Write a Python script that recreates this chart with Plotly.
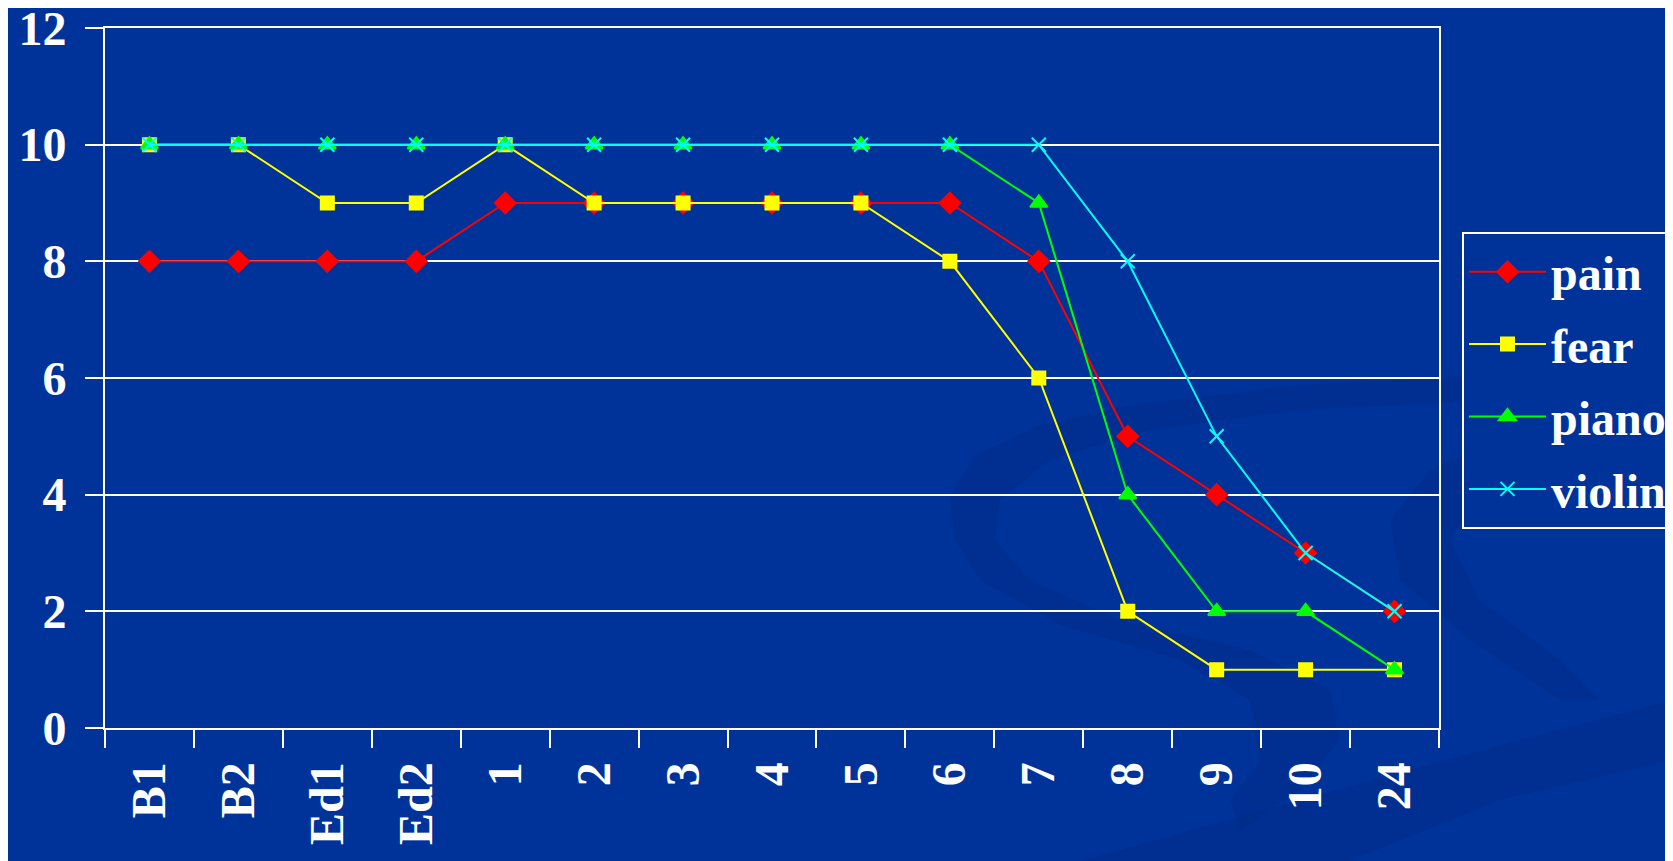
import plotly.graph_objects as go

categories = ["B1", "B2", "Ed1", "Ed2", "1", "2", "3", "4", "5", "6", "7", "8", "9", "10", "24"]
pain = [8, 8, 8, 8, 9, 9, 9, 9, 9, 9, 8, 5, 4, 3, 2]
fear = [10, 10, 9, 9, 10, 9, 9, 9, 9, 8, 6, 2, 1, 1, 1]
piano = [10, 10, 10, 10, 10, 10, 10, 10, 10, 10, 9, 4, 2, 2, 1]
violin = [10, 10, 10, 10, 10, 10, 10, 10, 10, 10, 10, 8, 5, 3, 2]
y_ticks = [0, 2, 4, 6, 8, 10, 12]

BG = "#003399"
FONT = "Liberation Serif, Times New Roman, Times, serif"

fig = go.Figure()
series = [
    ("pain", pain, "#ff0000", "diamond", 16),
    ("fear", fear, "#ffff00", "square", 13),
    ("piano", piano, "#00ff00", "triangle-up", 15),
    ("violin", violin, "#00ffff", "x-thin", 14),
]
for name, vals, col, sym, sz in series:
    fig.add_trace(go.Scatter(
        x=categories, y=vals, name=name, mode="lines+markers", legendgroup=name,
        line=dict(color=col, width=2),
        marker=dict(symbol=sym, size=sz, color=col, line=dict(color=col, width=2)),
    ))

# plot-area in plotly pixels (page adds ~8px offset): x 97..1431, y 20..720
L, T, R, B = 97, 20, 1431, 720
W, H = R - L, B - T

def P(X, Y):
    # X, Y are screenshot pixels
    return (X - 8 - L) / W, (B - (Y - 8)) / H

def path(pts):
    s = ""
    for i, (X, Y) in enumerate(pts):
        xp, yp = P(X, Y)
        s += ("M" if i == 0 else "L") + f"{xp:.4f},{yp:.4f} "
    return s + "Z"

swirl1 = [(950, 497), (975, 455), (1040, 425), (1133, 405), (1300, 385), (1500, 375), (1673, 372),
          (1673, 395), (1500, 400), (1300, 410), (1150, 430), (1050, 460), (1000, 500), (995, 540),
          (1030, 580), (1120, 620), (1250, 650), (1330, 690), (1340, 740), (1300, 790), (1240, 830),
          (1230, 800), (1260, 760), (1250, 700), (1180, 660), (1060, 625), (980, 580), (955, 540)]
swirl2 = [(1080, 861), (1300, 800), (1500, 745), (1673, 700), (1673, 760), (1500, 800), (1350, 861)]
swirl3 = [(1390, 520), (1430, 470), (1520, 430), (1673, 395), (1673, 420), (1560, 450), (1480, 490),
          (1450, 540), (1480, 600), (1560, 660), (1600, 700), (1560, 700), (1470, 640), (1400, 580)]
shapes = []
for pts in (swirl1, swirl2, swirl3):
    shapes.append(dict(type="path", xref="paper", yref="paper", path=path(pts),
                       fillcolor="rgba(0,25,100,0.14)", line=dict(width=0), layer="below"))

lx, ly = P(1462, 232)

fig.update_layout(
    width=1673, height=861,
    paper_bgcolor=BG, plot_bgcolor="rgba(0,0,0,0)",
    margin=dict(l=L, r=1673 - R, t=T, b=861 - B, autoexpand=False),
    font=dict(family=FONT, color="white", size=48, weight="bold"),
    shapes=shapes,
    showlegend=True,
    legend=dict(
        x=lx, xanchor="left", y=ly, yanchor="top",
        bgcolor=BG, bordercolor="white", borderwidth=2,
        font=dict(family=FONT, size=48, color="white", weight="bold"),
        itemwidth=77, tracegroupgap=7,
    ),
    xaxis=dict(
        type="category", categoryorder="array", categoryarray=categories,
        tickangle=-90, tickson="boundaries", ticks="outside", ticklen=18, tickwidth=2,
        tickcolor="white", showline=True, linecolor="white", linewidth=2, mirror=True,
        showgrid=False, zeroline=False, automargin=False, ticklabelstandoff=13,
        ticklabeloverflow="allow",
        tickfont=dict(family=FONT, size=48, color="white", weight="bold"),
        range=[-0.5, 14.5],
    ),
    yaxis=dict(
        range=[0, 12], tickvals=y_ticks, ticks="outside", ticklen=18, tickwidth=2,
        tickcolor="white", showline=True, linecolor="white", linewidth=2, mirror=True,
        showgrid=True, gridcolor="white", gridwidth=2, zeroline=False, automargin=False,
        ticklabelstandoff=9, ticklabeloverflow="allow",
        tickfont=dict(family=FONT, size=48, color="white", weight="bold"),
    ),
)

fig.write_html("out.html")
